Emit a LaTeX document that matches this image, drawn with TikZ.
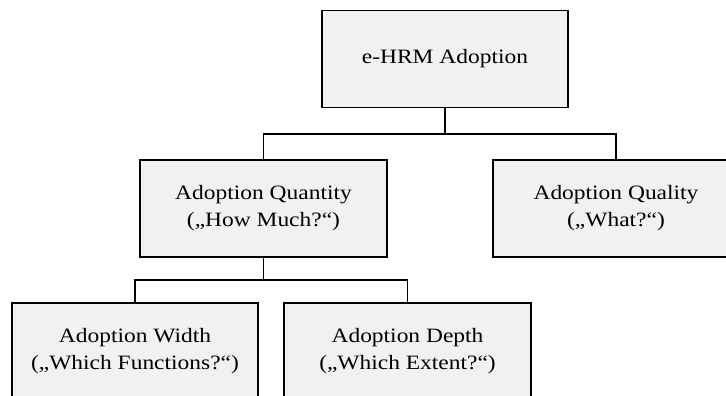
\documentclass[tikz,border=0pt]{standalone}
\usepackage{fontspec}
\setmainfont{Liberation Serif}[FakeStretch=1.15]
\usepackage{tikz}
\definecolor{boxgray}{RGB}{241,241,241}

\begin{document}
\begin{tikzpicture}[x=0.75pt,y=-0.75pt,
  box/.style={draw,fill=boxgray,line width=1.35pt,minimum width=185pt,minimum height=72.75pt,
    align=center,inner sep=0pt,font=\fontsize{15.3pt}{20.25pt}\selectfont},
  link/.style={line width=1.35pt}]

\useasboundingbox (0,0) rectangle (726,396); %Bildgroesse

\node[box] (adopt) at (445,59) {e-HRM Adoption};

\node[box] (quant) at (263.5,208.5) {Adoption Quantity\\(„How Much?“)};
\node[box] (qual) at (616,208.5) {Adoption Quality\\(„What?“)};

\node[box] (width) at (135,351.5) {Adoption Width\\(„Which Functions?“)};
\node[box] (depth) at (407.5,351.5) {Adoption Depth\\(„Which Extent?“)};

\coordinate (fork1) at (445,134);
\coordinate (fork2) at (263.5,280);

\draw[link] (adopt.south) -- (fork1);
\draw[link] (quant.north) |- (fork1) -| (qual.north);

\draw[link] (quant.south) -- (fork2);
\draw[link] (width.north) |- (fork2) -| (depth.north);

\end{tikzpicture}
\end{document}
